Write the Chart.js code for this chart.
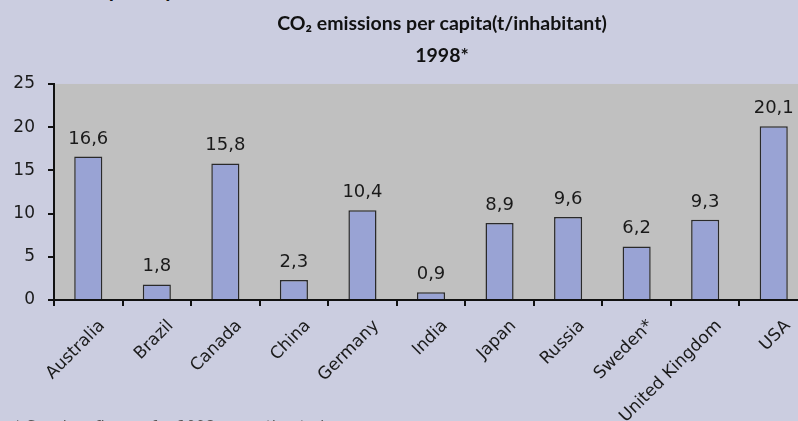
<!DOCTYPE html>
<html>
<head>
<meta charset="utf-8">
<script src="https://cdn.jsdelivr.net/npm/chart.js@4.4.1/dist/chart.umd.min.js"></script>
<style>
  html, body { margin: 0; padding: 0; background: #cbcde0; overflow: hidden; }
  #page { position: relative; width: 798px; height: 421px; overflow: hidden; background: #cbcde0; }
  #wrap { position: absolute; left: 0; top: 0; width: 884px; height: 440px; }
  #heading { position: absolute; left: -30px; top: -24px; font: bold 21px Lato, "Liberation Sans", sans-serif; color: #111; white-space: nowrap; }
  #note { position: absolute; left: 14px; top: 418px; font: 15px "DejaVu Sans", sans-serif; color: #555; white-space: nowrap; }
</style>
</head>
<body>
<div id="page">
  <div id="heading">CO₂ emissions per capita</div>
  <div id="wrap"><canvas id="co2Chart"></canvas></div>
  <div id="note">* Sweden: figures for 1998 are estimated</div>
</div>
<script>
// --- ข้อมูล ---
const countries = ['Australia', 'Brazil', 'Canada', 'China', 'Germany', 'India', 'Japan', 'Russia', 'Sweden*', 'United Kingdom', 'USA'];
const perCapita = [16.6, 1.8, 15.8, 2.3, 10.4, 0.9, 8.9, 9.6, 6.2, 9.3, 20.1];
const yTicks = [0, 5, 10, 15, 20, 25];
const titleLines = ['CO₂ emissions per capita(t/inhabitant)', '1998*'];

// พื้นหลังสีเทาในพื้นที่กราฟ
const plotBg = {
  id: 'plotBg',
  beforeDraw(chart) {
    const { ctx, chartArea: a } = chart;
    ctx.save();
    ctx.fillStyle = '#c0c0c0';
    ctx.fillRect(a.left, a.top, a.right - a.left, a.bottom - a.top);
    ctx.restore();
  }
};

// ตัวเลขเหนือแท่ง (ใช้ทศนิยมแบบจุลภาค)
const barValues = {
  id: 'barValues',
  afterDatasetsDraw(chart) {
    const { ctx } = chart;
    const meta = chart.getDatasetMeta(0);
    ctx.save();
    ctx.font = '18px "DejaVu Sans", sans-serif';
    ctx.fillStyle = '#1a1a1a';
    ctx.textAlign = 'center';
    ctx.textBaseline = 'alphabetic';
    meta.data.forEach((bar, i) => {
      ctx.fillText(perCapita[i].toFixed(1).replace('.', ','), bar.x, bar.y - 13);
    });
    ctx.restore();
  }
};

document.addEventListener('DOMContentLoaded', () => {
  const ctx = document.getElementById('co2Chart').getContext('2d');
  new Chart(ctx, {
    type: 'bar',
    data: {
      labels: countries,
      datasets: [{
        data: perCapita,
        backgroundColor: '#99a3d4',
        borderColor: '#2a2a2a',
        borderWidth: 1.5,
        barPercentage: 0.41,
        categoryPercentage: 1
      }]
    },
    options: {
      responsive: true,
      maintainAspectRatio: false,
      animation: false,
      layout: { padding: 0 },
      plugins: {
        legend: { display: false },
        tooltip: { enabled: false },
        title: {
          display: true,
          text: titleLines,
          color: '#111',
          font: { family: 'Lato, "Liberation Sans", sans-serif', size: 19.5, weight: 'bold', lineHeight: 1.64 },
          padding: { top: 8, bottom: 12 }
        }
      },
      scales: {
        x: {
          border: { color: '#111', width: 2 },
          grid: { drawOnChartArea: false, tickLength: 6, color: '#111', lineWidth: 2 },
          ticks: {
            autoSkip: false, maxRotation: 45, minRotation: 45, padding: 10, labelOffset: 14,
            color: '#1a1a1a',
            font: { family: '"DejaVu Sans", sans-serif', size: 17 }
          },
          afterFit(scale) { scale.height = 140; }
        },
        y: {
          min: 0, max: 25,
          border: { color: '#111', width: 2 },
          grid: { drawOnChartArea: false, tickLength: 6, color: '#111', lineWidth: 2 },
          afterBuildTicks(scale) { scale.ticks = yTicks.map(v => ({ value: v })); },
          ticks: {
            padding: 13,
            color: '#1a1a1a',
            font: { family: '"DejaVu Sans", sans-serif', size: 17 }
          },
          afterFit(scale) { scale.width = 54; }
        },
        // แกนว่างด้านขวา เว้นที่ให้หัวเรื่องอยู่กลางผืนผ้าใบ
        yRight: {
          type: 'linear',
          position: 'right',
          grid: { display: false },
          border: { display: false },
          ticks: { display: false },
          afterFit(scale) { scale.width = 76; }
        }
      }
    },
    plugins: [plotBg, barValues]
  });
});
</script>
</body>
</html>
